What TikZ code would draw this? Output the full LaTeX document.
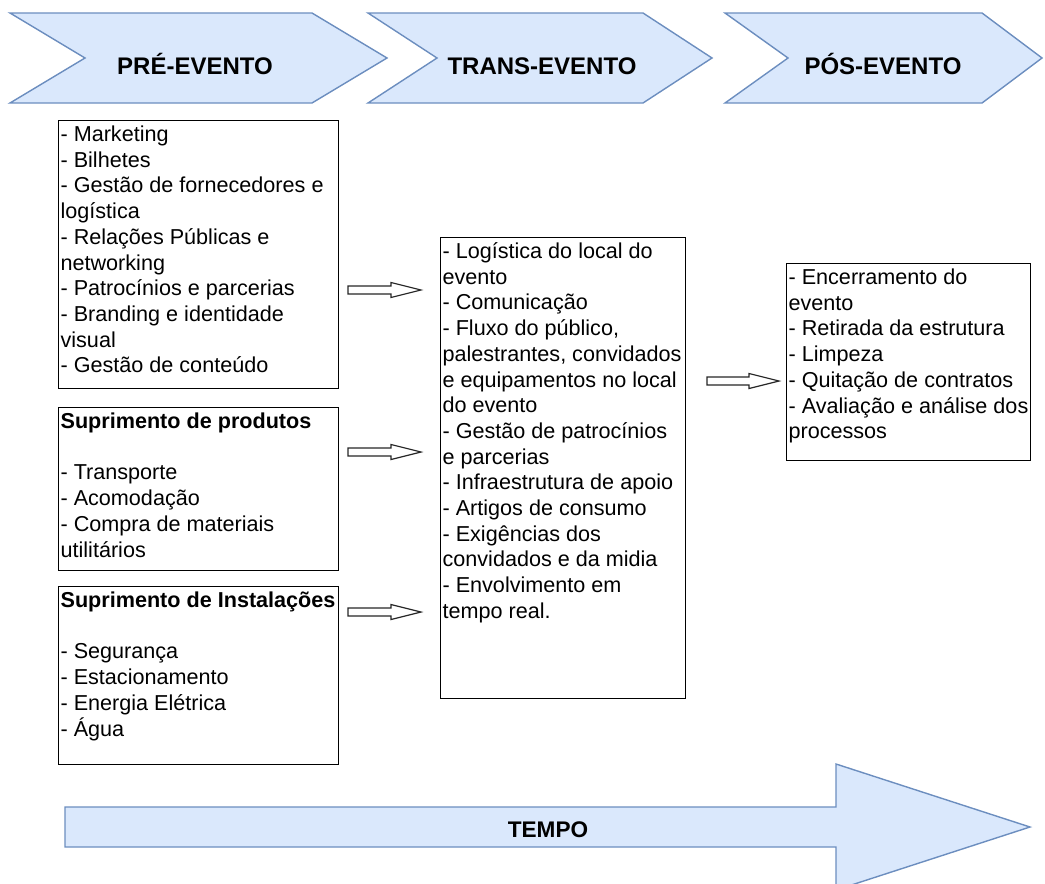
\documentclass[tikz,border=0pt]{standalone}
\usepackage{fontspec}
\setmainfont{Liberation Sans}
\usepackage{xcolor}
\usepackage{tikz}
\usetikzlibrary{calc, positioning}
\definecolor{azul}{HTML}{DAE8FC}
\definecolor{azulborda}{HTML}{6C8EBF}
\newcommand{\corpo}{\fontsize{10.8pt}{12.85pt}\selectfont}
\newcommand{\lista}[3]{\parbox[c][#2][t]{#1}{\vspace*{1.5pt}\raggedright\strut#3}}
\newcommand{\setavazada}[2]{%
  \draw[vazada] (#1) ++(0,-4) -- ++({#2-30},0) -- ++(0,-3.5) -- ++(30,7.5)
    -- ++(-30,7.5) -- ++(0,-3.5) -- ++({30-#2},0) -- cycle;}
\tikzset{
  etapa/.style={fill=azul, draw=azulborda, line width=0.7pt},
  rotulo/.style={anchor=base, font=\bfseries\fontsize{12pt}{14pt}\selectfont},
  caixa/.style={draw, line width=0.6pt, inner xsep=1pt, inner ysep=0pt, anchor=north west, font=\corpo},
  vazada/.style={draw=black!85, fill=white, line width=0.6pt}
}

\begin{document}
\begin{tikzpicture}[x=0.5pt, y=-0.5pt]
  \useasboundingbox (0,0) rectangle (1045,884);
  % etapas
  \foreach \a/\b/\c/\d in {10/85/312/387, 368/437/643/712, 725/788/982/1042}
    \draw[etapa] (\a,13) -- (\c,13) -- (\d,58) -- (\c,103) -- (\a,103) -- (\b,58) -- cycle;
  \node[rotulo] (pre) at (195,74) {PRÉ-EVENTO};
  \node[rotulo] (trans) at (542,74) {TRANS-EVENTO};
  \node[rotulo] (pos) at (883,74) {PÓS-EVENTO};

  % pre-evento
  \node[caixa] (gestao) at (58,120) {\lista{138pt}{134pt}{%
    - Marketing\\
    - Bilhetes\\
    - Gestão de fornecedores e\\
    logística\\
    - Relações Públicas e\\
    networking\\
    - Patrocínios e parcerias\\
    - Branding e identidade\\
    visual\\
    - Gestão de conteúdo}};
  \node[caixa] (produtos) at (58,407) {\lista{138pt}{81.5pt}{%
    \textbf{Suprimento de produtos}\\[12.85pt]
    - Transporte\\
    - Acomodação\\
    - Compra de materiais\\
    utilitários}};
  \node[caixa] (instalacoes) at (58,586) {\lista{138pt}{89pt}{%
    \textbf{Suprimento de Instalações}\\[12.85pt]
    - Segurança\\
    - Estacionamento\\
    - Energia Elétrica\\
    - Água}};

  % trans-evento
  \node[caixa] (local) at (440,237) {\lista{120.5pt}{230.5pt}{%
    - Logística do local do\\
    evento\\
    - Comunicação\\
    - Fluxo do público,\\
    palestrantes, convidados\\
    e equipamentos no local\\
    do evento\\
    - Gestão de patrocínios\\
    e parcerias\\
    - Infraestrutura de apoio\\
    - Artigos de consumo\\
    - Exigências dos\\
    convidados e da midia\\
    - Envolvimento em\\
    tempo real.}};

  % pos-evento
  \node[caixa] (encerramento) at (786,263) {\lista{120pt}{98.5pt}{%
    - Encerramento do\\
    evento\\
    - Retirada da estrutura\\
    - Limpeza\\
    - Quitação de contratos\\
    - Avaliação e análise dos\\
    processos}};

  % setas vazadas
  \coordinate (s1) at (348,290);
  \coordinate (s2) at (348,452);
  \coordinate (s3) at (348,612);
  \coordinate (s4) at (707,381);
  \setavazada{s1}{73}
  \setavazada{s2}{73}
  \setavazada{s3}{73}
  \setavazada{s4}{72}

  % tempo
  \draw[etapa] (65,807) -- (836,807) -- (836,764) -- (1030,827) -- (836,890) -- (836,847) -- (65,847) -- cycle;
  \node[rotulo, font=\bfseries\fontsize{11.3pt}{13pt}\selectfont] (tempo) at (548,837) {TEMPO};
\end{tikzpicture}
\end{document}
